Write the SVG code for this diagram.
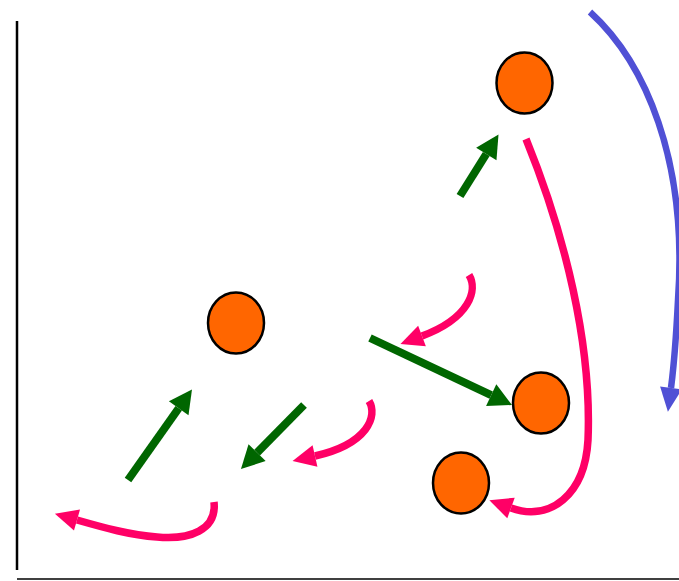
<svg xmlns="http://www.w3.org/2000/svg" width="679" height="581" viewBox="0 0 679 581">
<style>
.node{fill:#FF6600;stroke:#000;stroke-width:2.5}
.g{fill:none;stroke:#006600;stroke-width:8}
.p{fill:none;stroke:#FF0066;stroke-width:7.5}
.b{fill:none;stroke:#5050D5;stroke-width:6.5}
.axis{stroke:#000;fill:none}
</style>
<defs>
<marker id="ag" markerUnits="userSpaceOnUse" markerWidth="24" markerHeight="24" refX="0" refY="12" orient="auto" viewBox="0 0 24 24" overflow="visible"><path d="M0,0 L23,12 L0,24 Z" fill="#006600"/></marker>
<marker id="ap" markerUnits="userSpaceOnUse" markerWidth="24" markerHeight="22" refX="0" refY="11" orient="auto" viewBox="0 0 24 22" overflow="visible"><path d="M0,0 L23,11 L0,22 Z" fill="#FF0066"/></marker>
<marker id="ab" markerUnits="userSpaceOnUse" markerWidth="25" markerHeight="22" refX="0" refY="11" orient="auto" viewBox="0 0 25 22" overflow="visible"><path d="M0,0 L24,11 L0,22 Z" fill="#5050D5"/></marker>
</defs>
<g id="axes">
<line class="axis" x1="17" y1="21" x2="17" y2="570" stroke-width="2.5"/>
<line class="axis" x1="17" y1="579" x2="679" y2="579" stroke-width="1.5"/>
</g>
<g id="node1"><ellipse class="node" cx="524.5" cy="83" rx="28" ry="30.5"/></g>
<g id="node2"><ellipse class="node" cx="236" cy="323" rx="28" ry="30.5"/></g>
<g id="node3"><ellipse class="node" cx="541" cy="403" rx="28" ry="30.5"/></g>
<g id="node4"><ellipse class="node" cx="461" cy="483" rx="28" ry="30.5"/></g>
<g id="connectors">
<path class="g" d="M460,196 L486.3,154" marker-end="url(#ag)"/>
<path class="g" d="M370,338 L491.2,395.2" marker-end="url(#ag)"/>
<path class="g" d="M128,480 L178.7,408.3" marker-end="url(#ag)"/>
<path class="g" d="M304,405 L257.1,452.6" marker-end="url(#ag)"/>
<path class="p" d="M469,275 C478,290 470,318 422,336" marker-end="url(#ap)"/>
<path class="p" d="M369,401 C378,416 368,444 315,456" marker-end="url(#ap)"/>
<path class="p" d="M214,502 C217,530 190,540 157,537 C130,535 105,528 77,520" marker-end="url(#ap)"/>
<path class="p" d="M526,139 C565,235 592,345 588,440 C585,495 550,522 511,508" marker-end="url(#ap)"/>
<path class="b" d="M590,12 C645,62 688,160 678,300 C676,340 674,365 671,388" marker-end="url(#ab)"/>
</g>
</svg>
